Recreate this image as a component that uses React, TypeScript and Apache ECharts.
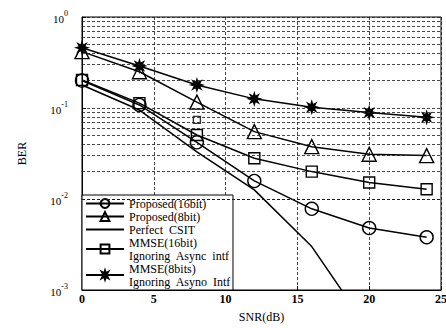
import React, { useEffect, useRef } from "react";
import * as echarts from "echarts";

const snr = [0, 4, 8, 12, 16, 20, 24];
const proposed16 = [0.2, 0.108, 0.042, 0.0158, 0.0078, 0.0048, 0.0038];
const proposed8 = [0.416, 0.25, 0.116, 0.055, 0.0376, 0.031, 0.03];
const perfectSnr = [0, 4, 8, 12, 16, 20];
const perfectCsit = [0.179, 0.095, 0.033, 0.0126, 0.003, 0.00036];
const mmse16 = [0.203, 0.113, 0.0505, 0.028, 0.02, 0.0152, 0.0128];
const mmse8 = [0.46, 0.29, 0.179, 0.126, 0.102, 0.089, 0.079];
const strayPoint = [[8, 0.074]];
const xTicks = [0, 5, 10, 15, 20, 25];
const decades = [0.001, 0.01, 0.1];
const minorMultipliers = [2, 3, 4, 5, 6, 7, 8, 9];

const names = [
  "Proposed(16bit)",
  "Proposed(8bit)",
  "Perfect  CSIT",
  "MMSE(16bit)\nIgnoring  Async  intf",
  "MMSE(8bits)\nIgnoring  Asyno  Intf",
];

const STAR =
  "path://M10 0 L4.2 1.75 L7.07 7.07 L1.75 4.2 L0 10 L-1.75 4.2 L-7.07 7.07 L-4.2 1.75 L-10 0 L-4.2 -1.75 L-7.07 -7.07 L-1.75 -4.2 L0 -10 L1.75 -4.2 L7.07 -7.07 L4.2 -1.75 Z";

const FONT = "Liberation Serif";

export default function App() {
  const ref = useRef<HTMLDivElement>(null);
  useEffect(() => {
    if (!ref.current) return;
    const chart = echarts.init(ref.current, undefined, { renderer: "svg" });
    const pair = (xs: number[], ys: number[]) => xs.map((x, i) => [x, ys[i]]);
    const minorLines: any[] = [];
    decades.forEach((d) => minorMultipliers.forEach((m) => minorLines.push({ yAxis: m * d })));
    const hollow = { color: "rgba(255,255,255,0)", borderColor: "#000", borderWidth: 1.4 };
    const line = { color: "#000", width: 1.5 };
    const gridDash = { color: "#1a1a1a", width: 0.8, type: [3, 2] as any };
    chart.setOption({
      animation: false,
      backgroundColor: "#fff",
      grid: {
        left: 82, right: 5, top: 17, bottom: 38, show: true,
        borderColor: "#000", borderWidth: 1, outerBoundsMode: "none", containLabel: false,
      },
      xAxis: {
        type: "value",
        min: 0,
        max: 25,
        interval: 5,
        name: "SNR(dB)",
        nameLocation: "middle",
        nameGap: 21,
        nameTextStyle: { fontFamily: FONT, fontSize: 12, color: "#000" },
        axisLine: { lineStyle: { color: "#000" } },
        axisTick: { inside: true, length: 4, lineStyle: { color: "#000" } },
        axisLabel: {
          fontFamily: FONT, fontSize: 12, color: "#000", margin: 3, fontWeight: "bold",
          formatter: (v: number) => (xTicks.includes(v) ? String(v) : ""),
        },
        splitLine: { show: true, lineStyle: gridDash },
      },
      yAxis: {
        type: "log",
        logBase: 10,
        min: 0.001,
        max: 1,
        name: "BER",
        nameLocation: "middle",
        nameGap: 54,
        nameRotate: 90,
        nameTextStyle: { fontFamily: FONT, fontSize: 12, color: "#000" },
        axisLine: { lineStyle: { color: "#000" } },
        axisTick: { inside: true, length: 4, lineStyle: { color: "#000" } },
        axisLabel: {
          margin: 14,
          formatter: (v: number) => `{b|10}{s|${Math.round(Math.log10(v))}}`,
          rich: {
            b: { fontFamily: FONT, fontSize: 11, color: "#000", lineHeight: 15, verticalAlign: "bottom" },
            s: { fontFamily: FONT, fontSize: 8, color: "#000", lineHeight: 9, verticalAlign: "top" },
          },
        },
        splitLine: { show: true, lineStyle: gridDash },
      },
      legend: {
        data: names,
        orient: "vertical",
        left: 82,
        bottom: 38,
        backgroundColor: "#fff",
        borderColor: "#000",
        borderWidth: 1,
        padding: [2, 2, 2, 3],
        itemGap: 0,
        itemWidth: 38,
        itemHeight: 11,
        textStyle: { fontFamily: FONT, fontSize: 12, color: "#000", lineHeight: 13 },
      },
      series: [
        {
          name: names[0], type: "line", data: pair(snr, proposed16),
          symbol: "circle", symbolSize: 13, lineStyle: line, itemStyle: hollow,
          markLine: {
            silent: true, symbol: "none", label: { show: false },
            lineStyle: { color: "#1a1a1a", width: 0.8, type: [3, 2] as any },
            data: minorLines,
          },
        },
        { name: names[1], type: "line", data: pair(snr, proposed8), symbol: "triangle", symbolSize: 14, lineStyle: line, itemStyle: hollow },
        { name: names[2], type: "line", data: pair(perfectSnr, perfectCsit), symbol: "none", lineStyle: line, itemStyle: { color: "rgba(0,0,0,0)" } },
        { name: names[3], type: "line", data: pair(snr, mmse16), symbol: "rect", symbolSize: 11, lineStyle: line, itemStyle: hollow },
        {
          name: names[4], type: "line", data: pair(snr, mmse8), symbol: STAR, symbolSize: 12, lineStyle: line,
          itemStyle: { color: "#000", borderColor: "#000", borderWidth: 1.2 },
        },
        { name: "stray", type: "scatter", data: strayPoint, symbol: "rect", symbolSize: 7, itemStyle: hollow },
      ],
    });
    return () => chart.dispose();
  }, []);
  return <div ref={ref} style={{ position: "fixed", left: 0, top: 0, width: 446, height: 328 }} />;
}
